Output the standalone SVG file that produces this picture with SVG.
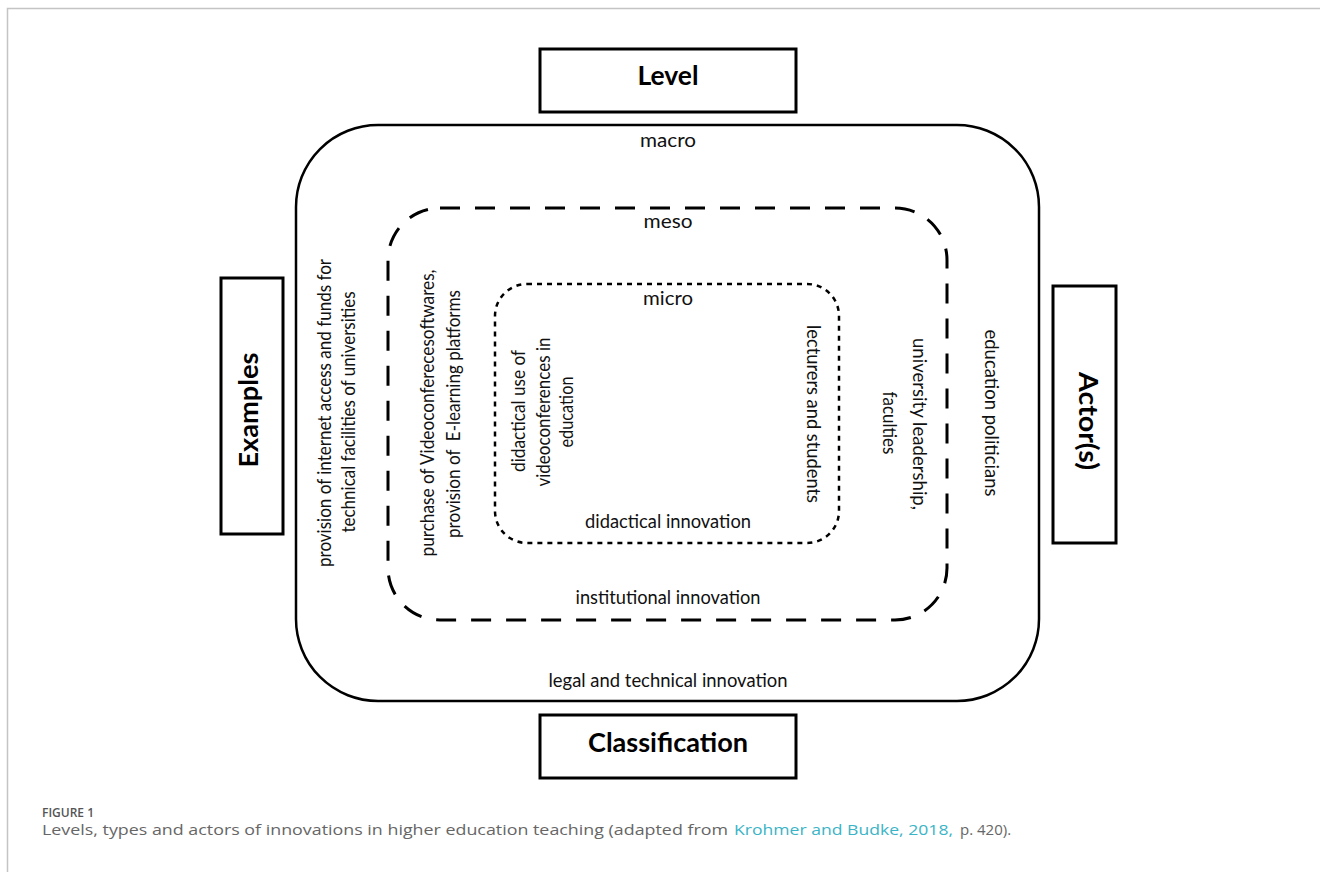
<svg xmlns="http://www.w3.org/2000/svg" width="1320" height="872" viewBox="0 0 1320 872">
<style>
.t{font-family:Lato,"Open Sans","Liberation Sans",sans-serif;font-size:18.5px;fill:#111;}
.b{font-family:Lato,"Open Sans","Liberation Sans",sans-serif;font-size:27px;font-weight:700;fill:#000;}
.box{fill:#fff;stroke:#000;stroke-width:3;}
.ring{fill:none;stroke:#000;}
.cap{font-family:"Open Sans","Liberation Sans",sans-serif;font-size:15px;fill:#666;}
</style>
<rect width="1320" height="872" fill="#fff"/>
<path id="frame" d="M7.5 872 V8.5 H1320" fill="none" stroke="#c4c4c4" stroke-width="1.5"/>

<g id="macro">
<rect class="ring" x="296" y="125" width="743" height="576" rx="82" stroke-width="2.5"/>
<text class="t" x="668" y="147" text-anchor="middle" textLength="56" lengthAdjust="spacingAndGlyphs">macro</text>
<text class="t" x="668" y="687" text-anchor="middle" textLength="239" lengthAdjust="spacingAndGlyphs">legal and technical innovation</text>
<text class="t" transform="translate(331,413) rotate(-90)" text-anchor="middle" textLength="308" lengthAdjust="spacingAndGlyphs">provision of internet access and funds for</text>
<text class="t" transform="translate(355,412) rotate(-90)" text-anchor="middle" textLength="241" lengthAdjust="spacingAndGlyphs">technical facilities of universities</text>
<text class="t" transform="translate(985,413) rotate(90)" text-anchor="middle" textLength="167" lengthAdjust="spacingAndGlyphs">education politicians</text>
</g>

<g id="meso">
<rect class="ring" x="388" y="208" width="559" height="412" rx="52" stroke-width="3" stroke-dasharray="20 15"/>
<text class="t" x="668" y="228" text-anchor="middle" textLength="49" lengthAdjust="spacingAndGlyphs">meso</text>
<text class="t" x="668" y="604" text-anchor="middle" textLength="185" lengthAdjust="spacingAndGlyphs">institutional innovation</text>
<text class="t" transform="translate(434,413) rotate(-90)" text-anchor="middle" textLength="287" lengthAdjust="spacingAndGlyphs">purchase of Videoconferecesoftwares,</text>
<text class="t" transform="translate(460,414) rotate(-90)" text-anchor="middle" textLength="248" lengthAdjust="spacingAndGlyphs" style="white-space:pre">provision of  E-learning platforms</text>
<text class="t" transform="translate(913,424) rotate(90)" text-anchor="middle" textLength="172" lengthAdjust="spacingAndGlyphs">university leadership,</text>
<text class="t" transform="translate(883,423) rotate(90)" text-anchor="middle" textLength="63" lengthAdjust="spacingAndGlyphs">faculties</text>
</g>

<g id="micro">
<rect class="ring" x="495" y="284" width="344" height="259" rx="32" stroke-width="2.5" stroke-dasharray="5 5"/>
<text class="t" x="668" y="305" text-anchor="middle" textLength="50" lengthAdjust="spacingAndGlyphs">micro</text>
<text class="t" x="668" y="528" text-anchor="middle" textLength="166" lengthAdjust="spacingAndGlyphs">didactical innovation</text>
<text class="t" transform="translate(525,411) rotate(-90)" text-anchor="middle" textLength="122" lengthAdjust="spacingAndGlyphs">didactical use of</text>
<text class="t" transform="translate(550,412) rotate(-90)" text-anchor="middle" textLength="149" lengthAdjust="spacingAndGlyphs">videoconferences in</text>
<text class="t" transform="translate(573,412) rotate(-90)" text-anchor="middle" textLength="71" lengthAdjust="spacingAndGlyphs">education</text>
<text class="t" transform="translate(807,414) rotate(90)" text-anchor="middle" textLength="178" lengthAdjust="spacingAndGlyphs">lecturers and students</text>
</g>

<g id="level">
<rect class="box" x="540" y="49" width="256" height="63"/>
<text class="b" x="668" y="85" text-anchor="middle" textLength="61" lengthAdjust="spacingAndGlyphs">Level</text>
</g>
<g id="classification">
<rect class="box" x="540" y="715" width="256" height="63"/>
<text class="b" x="668" y="752" text-anchor="middle" textLength="160" lengthAdjust="spacingAndGlyphs">Classification</text>
</g>
<g id="examples">
<rect class="box" x="221" y="278" width="62" height="256"/>
<text class="b" transform="translate(258,410) rotate(-90)" text-anchor="middle" textLength="115" lengthAdjust="spacingAndGlyphs">Examples</text>
</g>
<g id="actors">
<rect class="box" x="1053" y="286" width="63" height="257"/>
<text class="b" transform="translate(1079,421) rotate(90)" text-anchor="middle" textLength="98" lengthAdjust="spacingAndGlyphs">Actor(s)</text>
</g>
<g id="connectors"/>

<g id="caption">
<text x="42" y="817" font-family="'Open Sans','Liberation Sans',sans-serif" font-size="13" font-weight="600" fill="#555" textLength="52" lengthAdjust="spacingAndGlyphs">FIGURE 1</text>
<text class="cap" x="42" y="835" textLength="686" lengthAdjust="spacingAndGlyphs">Levels, types and actors of innovations in higher education teaching (adapted from</text>
<text class="cap" x="734" y="835" fill="#3ab4c6" style="fill:#3ab4c6" textLength="219" lengthAdjust="spacingAndGlyphs">Krohmer and Budke, 2018,</text>
<text class="cap" x="960" y="835">p. 420).</text>
</g>
</svg>
